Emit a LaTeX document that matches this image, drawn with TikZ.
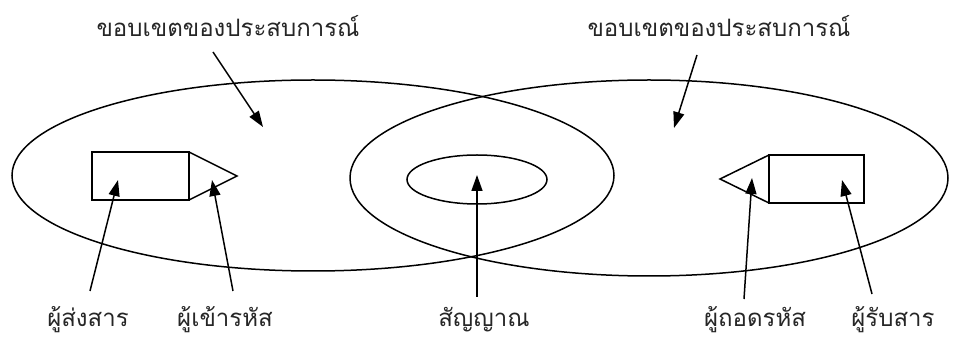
\documentclass[tikz,border=0pt]{standalone}
\usepackage{fontspec}
\newfontfamily\thaifont[Script=Thai]{Loma}
\usetikzlibrary{arrows.meta}
\tikzset{
  line/.style={draw=black,line width=1.5pt},
  ptr/.style={draw=black,line width=1.5pt,arrows={-Triangle[length=16pt,width=11pt,fill=black]}},
  lbl/.style={font=\thaifont\fontsize{24}{28}\selectfont,anchor=base,inner sep=0pt,text=black!85}}
\begin{document}
\begin{tikzpicture}
\useasboundingbox (0pt,0pt) rectangle (954pt,-347pt);
\begin{scope}[x=1pt,y=-1pt]
% ellipses
\draw[line] (313,175.5) ellipse [x radius=301, y radius=95.5];
\draw[line] (649,178) ellipse [x radius=299, y radius=98];
\draw[line] (477,179.5) ellipse [x radius=70, y radius=24.5];
% sender box + encoder
\draw[line] (189,152) -- (92,152) -- (92,200) -- (189,200) -- cycle;
\draw[line] (189,152) -- (237,176) -- (189,200);
% receiver box + decoder
\draw[line] (769,155) -- (864,155) -- (864,203) -- (769,203) -- cycle;
\draw[line] (769,155) -- (720,179) -- (769,203);
% labels
\node[lbl] (expL) at (228,37) {ขอบเขตของประสบการณ์};
\node[lbl] (expR) at (719,37) {ขอบเขตของประสบการณ์};
\node[lbl] (send) at (88,327) {ผู้ส่งสาร};
\node[lbl] (enc) at (225,327) {ผู้เข้ารหัส};
\node[lbl] (sig) at (484,327) {สัญญาณ};
\node[lbl] (dec) at (755,327) {ผู้ถอดรหัส};
\node[lbl] (recv) at (893,327) {ผู้รับสาร};
% arrow endpoints
\coordinate (aLs) at (213,52);  \coordinate (aLe) at (263,127);
\coordinate (aRs) at (697,55);  \coordinate (aRe) at (674,128);
\coordinate (sS) at (90,291);   \coordinate (sE) at (118,180);
\coordinate (eS) at (233,291);  \coordinate (eE) at (212,180);
\coordinate (gS) at (477,297);  \coordinate (gE) at (477,175);
\coordinate (dS) at (744,299);  \coordinate (dE) at (752,178);
\coordinate (rS) at (872,294);  \coordinate (rE) at (842,180);
\end{scope}
\draw[ptr] (aLs) -- (aLe);
\draw[ptr] (aRs) -- (aRe);
\draw[ptr] (sS) -- (sE);
\draw[ptr] (eS) -- (eE);
\draw[ptr] (gS) -- (gE);
\draw[ptr] (dS) -- (dE);
\draw[ptr] (rS) -- (rE);
\end{tikzpicture}
\end{document}
